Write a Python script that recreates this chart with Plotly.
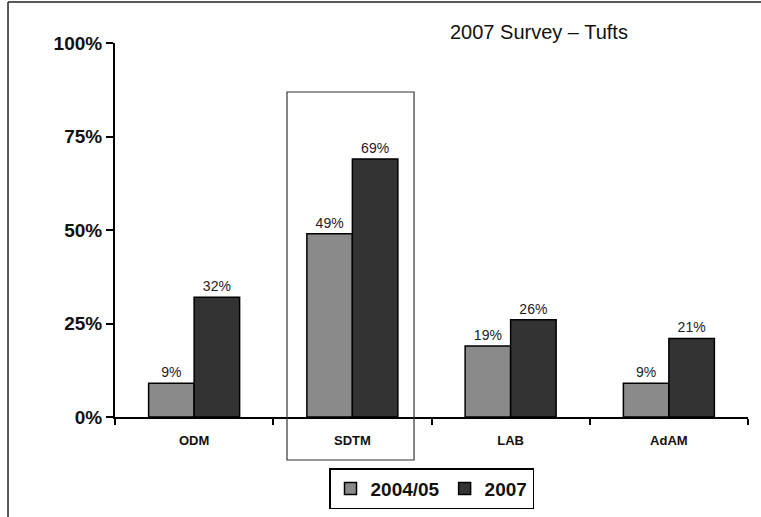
import plotly.graph_objects as go

categories = ["ODM", "SDTM", "LAB", "AdAM"]
series_2004 = [0.09, 0.49, 0.19, 0.09]
series_2007 = [0.32, 0.69, 0.26, 0.21]
series_names = ["2004/05", "2007"]
y_ticks = [0, 0.25, 0.5, 0.75, 1.0]
y_ticklabels = ["0%", "25%", "50%", "75%", "100%"]
title_text = "2007 Survey \u2013 Tufts"

FONT = "Liberation Sans, Arial, sans-serif"

fig = go.Figure()
for name, vals, col in [(series_names[0], series_2004, "#8a8a8a"),
                        (series_names[1], series_2007, "#333333")]:
    fig.add_trace(go.Bar(
        x=categories, y=vals, name=name,
        marker=dict(color=col, line=dict(color="#000000", width=1.5)),
        text=[f"{round(v*100)}%" for v in vals],
        textposition="outside",
        textfont=dict(family=FONT, size=14, color="#222222"),
        cliponaxis=False,
    ))

fig.update_layout(
    width=761, height=517,
    margin=dict(l=115, r=13, t=43, b=100, autoexpand=False),
    paper_bgcolor="white", plot_bgcolor="white",
    barmode="group", bargap=0.425, bargroupgap=0,
    showlegend=True,
    legend=dict(orientation="h", x=0.5, xanchor="center", y=-0.137, yanchor="top",
                bordercolor="#000000", borderwidth=1.5,
                font=dict(family=FONT, size=19, color="#111111", weight="bold"),
                itemwidth=30, tracegroupgap=0),
    font=dict(family=FONT),
)
fig.update_xaxes(
    range=[-0.5, 3.5], showline=True, linecolor="#000000", linewidth=2,
    ticks="outside", tickson="boundaries", ticklen=6, tickwidth=1.5, tickcolor="#000000",
    ticklabelstandoff=10,
    tickfont=dict(family=FONT, size=13, color="#111111", weight="bold"),
    showgrid=False, zeroline=False,
)
fig.update_yaxes(
    range=[0, 1], tickvals=y_ticks, ticktext=y_ticklabels,
    showline=True, linecolor="#000000", linewidth=2,
    ticks="outside", ticklen=7, tickwidth=2, tickcolor="#000000",
    tickfont=dict(family=FONT, size=19, color="#111111", weight="bold"),
    showgrid=False, zeroline=False,
)

# title annotation
fig.add_annotation(text=title_text, xref="paper", yref="paper", x=0.67, y=1.029,
                   showarrow=False, xanchor="center", yanchor="middle",
                   font=dict(family=FONT, size=20, color="#111111"))

# highlight box around SDTM
fig.add_shape(type="rect", xref="paper", yref="paper",
              x0=0.2717, x1=0.4724, y0=-0.115, y1=0.869,
              line=dict(color="#333333", width=1.2), fillcolor="rgba(0,0,0,0)")

# slide frame (top and left)
fig.add_shape(type="line", xref="paper", yref="paper",
              x0=-0.169, x1=1.03, y0=1.1096, y1=1.1096,
              line=dict(color="#222222", width=1.5))
fig.add_shape(type="line", xref="paper", yref="paper",
              x0=-0.169, x1=-0.169, y0=1.1096, y1=-0.3,
              line=dict(color="#222222", width=1.5))

fig.write_html("out.html")
